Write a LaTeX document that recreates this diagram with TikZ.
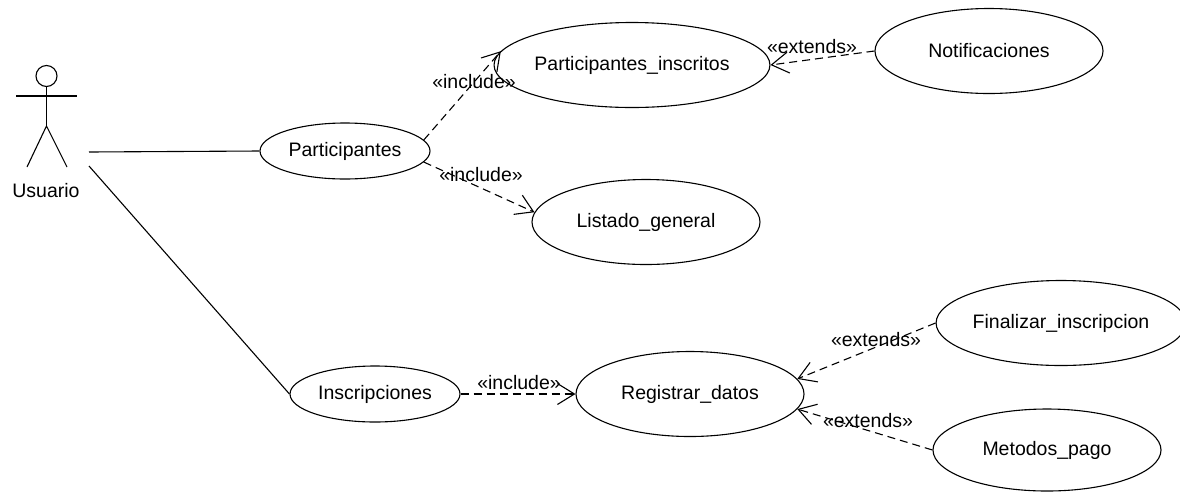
\documentclass[tikz,border=0pt]{standalone}
\usepackage{fontspec}
\setmainfont{Liberation Sans}
\usetikzlibrary{shapes.geometric,arrows.meta}

\tikzset{
  usecase/.style={draw, ellipse, line width=1.1pt, inner sep=0pt,
    font=\fontsize{19.5}{22}\selectfont},
  smallcase/.style={usecase, minimum width=170pt, minimum height=56pt},
  bigcase/.style={usecase, minimum width=228pt, minimum height=85pt},
  assoc/.style={line width=1.1pt},
  dep/.style={line width=1.1pt, dash pattern=on 8pt off 5pt,
    -{Straight Barb[length=17pt,width=21pt]}},
  stereo/.style={font=\fontsize{19.5}{22}\selectfont, inner sep=0pt}
}

\begin{document}
\begin{tikzpicture}[x=1pt,y=-1pt]
  \useasboundingbox (0,0) rectangle (1180,491);

  % actor
  \draw[assoc] (46.5,76) circle (10.5);
  \draw[assoc] (16,96) -- (77,96);
  \draw[assoc] (46.5,86.5) -- (46.5,126);
  \draw[assoc] (27,167) -- (46.5,126) -- (67,167);
  \node[stereo] (usuario) at (46,191) {Usuario};
  \coordinate (usrA) at (89,152);
  \coordinate (usrB) at (89,166);

  % use cases
  \node[smallcase] (part) at (345,151) {Participantes};
  \node[smallcase] (insc) at (375,394) {Inscripciones};
  \node[bigcase] (pins) at (632,65) {Participantes\_inscritos};
  \node[bigcase] (list) at (646,222) {Listado\_general};
  \node[bigcase] (notif) at (989,51) {Notificaciones};
  \node[bigcase] (reg) at (690,394) {Registrar\_datos};
  \node[bigcase] (fin) at (1061,323) {Finalizar\_inscripcion};
  \node[bigcase, minimum height=82pt] (pago) at (1047,450) {Metodos\_pago};

  % associations
  \draw[assoc] (usrA) -- (part.west);
  \draw[assoc] (usrB) -- (insc.west);

  % dependencies
  \draw[dep] (part.8) -- (pins.174);
  \draw[dep] (part.-8) -- (list.175);
  \draw[dep] (notif.west) -- (pins.east);
  \draw[dep] (insc.east) -- (reg.west);
  \draw[dep] (fin.west) -- (reg.8);
  \draw[dep] (pago.west) -- (reg.-8);

  % stereotypes
  \node[stereo] (lbA) at (474,82) {«include»};
  \node[stereo] (lbB) at (481,175) {«include»};
  \node[stereo] (lbC) at (812,47) {«extends»};
  \node[stereo] (lbD) at (519,383) {«include»};
  \node[stereo] (lbE) at (876,340) {«extends»};
  \node[stereo] (lbF) at (868,421) {«extends»};
\end{tikzpicture}
\end{document}
